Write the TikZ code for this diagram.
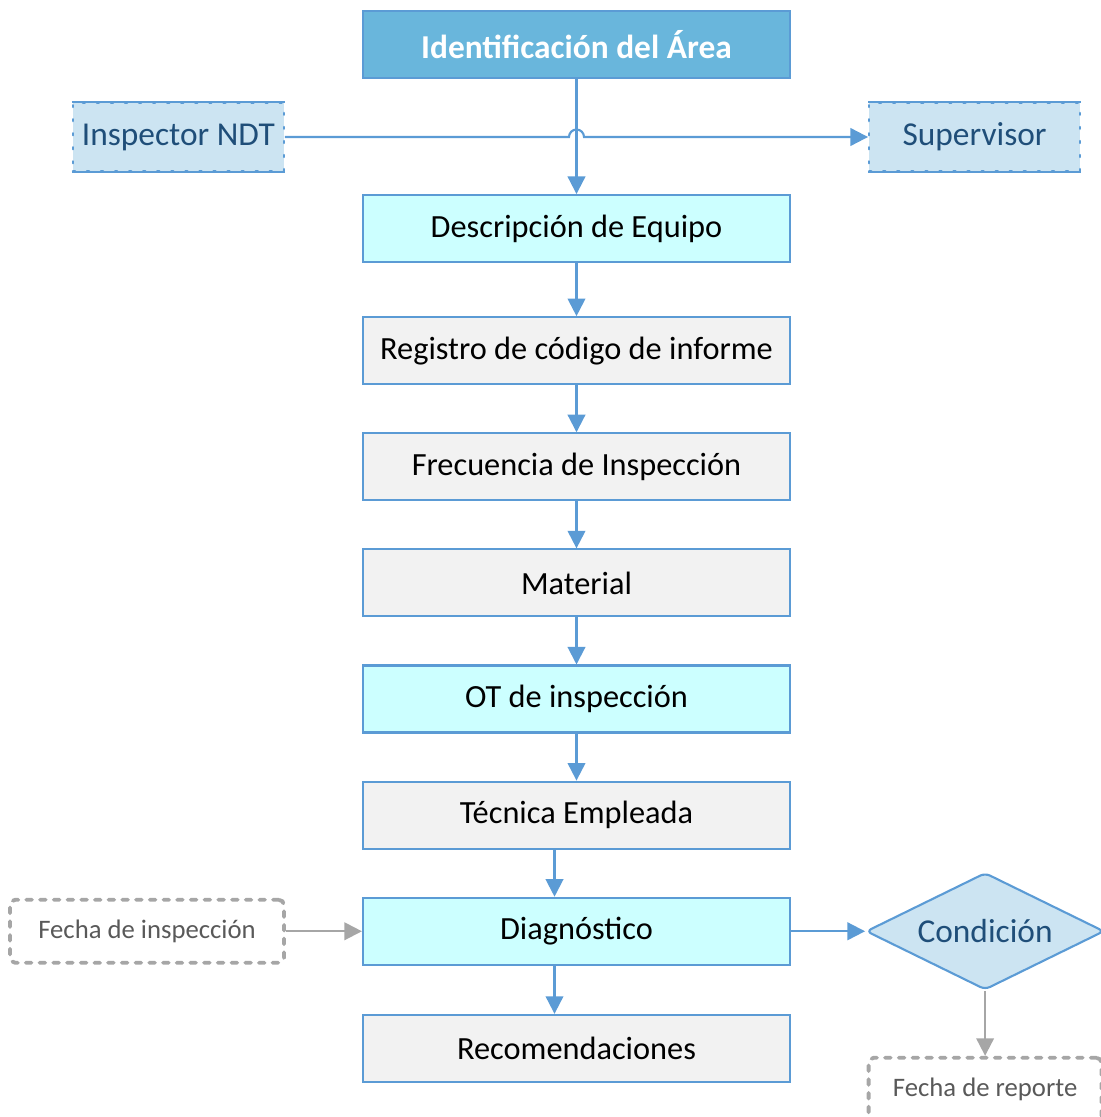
\documentclass[tikz,border=0pt]{standalone}
\usepackage{fontspec}
\setmainfont{Carlito}
\usetikzlibrary{arrows.meta,positioning,shapes.geometric,calc}

\definecolor{azulborde}{HTML}{5B9BD5}
\definecolor{azulcabecera}{HTML}{69B6DC}
\definecolor{azullateral}{HTML}{CCE4F2}
\definecolor{azuloscuro}{HTML}{1F4E79}
\definecolor{cianclaro}{HTML}{CCFFFF}
\definecolor{grisclaro}{HTML}{F2F2F2}
\definecolor{grisborde}{HTML}{A6A6A6}
\definecolor{gristexto}{HTML}{595959}

\begin{document}
\begin{tikzpicture}[
    node distance=0.47cm,
    caja/.style={draw=azulborde, line width=0.6pt, align=center, minimum width=4.27cm, minimum height=0.67cm, inner sep=0pt, font=\fontsize{9.2}{11}\selectfont},
    cajagris/.style={caja, fill=grisclaro},
    cajacian/.style={caja, fill=cianclaro},
    lateral/.style={fill=azullateral, draw=azulborde, line width=0.6pt, dash pattern=on 0.6pt off 3.4pt, line cap=round, text=azuloscuro, minimum width=2.11cm, minimum height=0.68cm, inner sep=0pt, font=\fontsize{9.5}{11}\selectfont},
    nota/.style={draw=grisborde, line width=1.1pt, dash pattern=on 1.6pt off 2.3pt, line cap=round, rounded corners=1.5pt, text=gristexto, minimum width=2.74cm, minimum height=0.63cm, inner sep=0pt, font=\fontsize{7.6}{9}\selectfont},
    condicion/.style={diamond, aspect=2, draw=azulborde, line width=0.6pt, fill=azullateral, text=azuloscuro, rounded corners=1.5pt, minimum width=2.38cm, minimum height=1.17cm, inner sep=0pt, font=\fontsize{9.5}{11}\selectfont},
    flecha/.style={draw=azulborde, line width=0.6pt, -{Triangle[length=5pt,width=5pt]}},
    flechagris/.style={draw=grisborde, line width=0.6pt, -{Triangle[length=5pt,width=5pt]}}
  ]
    \useasboundingbox (0,0) rectangle (11.01,-11.17);

    % columna principal
    \node[caja, fill=azulcabecera, text=white, font=\bfseries\fontsize{9.5}{11}\selectfont] (area) at (5.765,-0.445) {Identificación del Área};
    \node[cajacian, below=1.15cm of area] (equipo) {Descripción de Equipo};
    \node[cajagris, below=0.53cm of equipo] (registro) {Registro de código de informe};
    \node[cajagris, below=of registro] (frecuencia) {Frecuencia de Inspección};
    \node[cajagris, below=of frecuencia] (material) {Material};
    \node[cajacian, below=of material] (ot) {OT de inspección};
    \node[cajagris, below=of ot] (tecnica) {Técnica Empleada};
    \node[cajacian, below=of tecnica] (diagnostico) {Diagnóstico};
    \node[cajagris, below=0.48cm of diagnostico] (recomend) {Recomendaciones};

    % nodos laterales
    \node[lateral, above left=0.22cm and 0.77cm of equipo.north west] (inspector) {Inspector NDT};
    \node[lateral, above right=0.22cm and 0.77cm of equipo.north east] (supervisor) {Supervisor};
    \foreach \n in {inspector,supervisor}
      \draw[azulborde, line width=0.6pt] (\n.north west) -- (\n.north east) (\n.south west) -- (\n.south east);

    \node[nota, left=0.76cm of diagnostico] (fechainsp) {Fecha de inspección};
    \node[condicion, right=0.74cm of diagnostico] (cond) {Condición};
    \node[nota, minimum width=2.33cm, below=0.65cm of cond] (fechareporte) {Fecha de reporte};

    % conectores
    \draw[flecha] (inspector.east) -- ($(inspector.east -| area.south)+(-0.075,0)$) arc[start angle=180, end angle=0, radius=0.075] -- (supervisor.west);
    \draw[flecha] (area) -- (equipo);
    \foreach \a/\b in {equipo/registro, registro/frecuencia, frecuencia/material, material/ot, ot/tecnica}
      \draw[flecha] (\a) -- (\b);
    \draw[flecha] ([xshift=-0.22cm]tecnica.south) -- ([xshift=-0.22cm]diagnostico.north);
    \draw[flecha] ([xshift=-0.22cm]diagnostico.south) -- ([xshift=-0.22cm]recomend.north);
    \draw[flecha] (diagnostico) -- (cond);
    \draw[flechagris] (fechainsp) -- (diagnostico);
    \draw[flechagris] (cond) -- (fechareporte);
  \end{tikzpicture}
\end{document}
